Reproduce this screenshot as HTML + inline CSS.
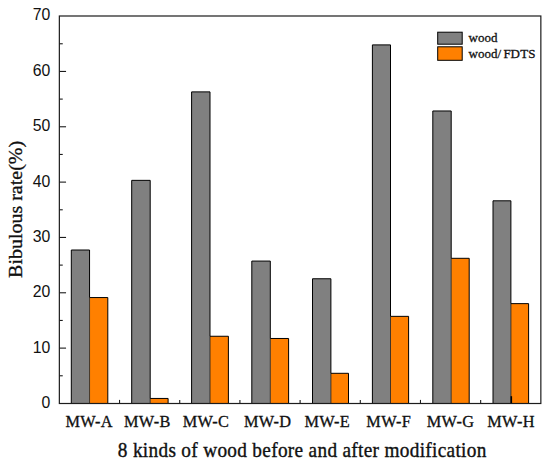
<!DOCTYPE html><html><head><meta charset="utf-8"><style>html,body{margin:0;padding:0;background:#fff;}svg{display:block}text{font-family:"Liberation Sans",sans-serif;fill:#111}.s{font-family:"Liberation Serif",serif;stroke:#111;stroke-width:0.3}.b{stroke-width:0.35}</style></head><body>
<svg width="550" height="466" viewBox="0 0 550 466">
<rect width="550" height="466" fill="#fff"/>
<rect x="71.30" y="250.01" width="18.25" height="153.49" fill="#808080"/>
<rect x="89.55" y="297.55" width="18.25" height="105.95" fill="#ff8000"/>
<line x1="89.55" y1="297.55" x2="89.55" y2="403.50" stroke="#1a1a1a" stroke-width="0.8"/>
<path d="M71.30 403.50V250.01H89.55V297.55H107.80V403.50" fill="none" stroke="#000" stroke-width="1" stroke-linejoin="miter"/>
<rect x="131.70" y="180.35" width="18.50" height="223.15" fill="#808080"/>
<rect x="150.20" y="398.45" width="17.90" height="5.05" fill="#ff8000"/>
<line x1="150.20" y1="398.45" x2="150.20" y2="403.50" stroke="#1a1a1a" stroke-width="0.8"/>
<path d="M131.70 403.50V180.35H150.20V398.45H168.10V403.50" fill="none" stroke="#000" stroke-width="1" stroke-linejoin="miter"/>
<rect x="191.60" y="91.89" width="18.40" height="311.61" fill="#808080"/>
<rect x="210.00" y="336.25" width="18.40" height="67.25" fill="#ff8000"/>
<line x1="210.00" y1="336.25" x2="210.00" y2="403.50" stroke="#1a1a1a" stroke-width="0.8"/>
<path d="M191.60 403.50V91.89H210.00V336.25H228.40V403.50" fill="none" stroke="#000" stroke-width="1" stroke-linejoin="miter"/>
<rect x="251.80" y="261.07" width="18.50" height="142.43" fill="#808080"/>
<rect x="270.30" y="338.47" width="18.30" height="65.03" fill="#ff8000"/>
<line x1="270.30" y1="338.47" x2="270.30" y2="403.50" stroke="#1a1a1a" stroke-width="0.8"/>
<path d="M251.80 403.50V261.07H270.30V338.47H288.60V403.50" fill="none" stroke="#000" stroke-width="1" stroke-linejoin="miter"/>
<rect x="312.50" y="278.76" width="18.40" height="124.74" fill="#808080"/>
<rect x="330.90" y="373.30" width="17.60" height="30.20" fill="#ff8000"/>
<line x1="330.90" y1="373.30" x2="330.90" y2="403.50" stroke="#1a1a1a" stroke-width="0.8"/>
<path d="M312.50 403.50V278.76H330.90V373.30H348.50V403.50" fill="none" stroke="#000" stroke-width="1" stroke-linejoin="miter"/>
<rect x="372.40" y="44.90" width="18.10" height="358.60" fill="#808080"/>
<rect x="390.50" y="316.35" width="18.10" height="87.15" fill="#ff8000"/>
<line x1="390.50" y1="316.35" x2="390.50" y2="403.50" stroke="#1a1a1a" stroke-width="0.8"/>
<path d="M372.40 403.50V44.90H390.50V316.35H408.60V403.50" fill="none" stroke="#000" stroke-width="1" stroke-linejoin="miter"/>
<rect x="432.80" y="110.97" width="18.40" height="292.53" fill="#808080"/>
<rect x="451.20" y="258.30" width="18.00" height="145.20" fill="#ff8000"/>
<line x1="451.20" y1="258.30" x2="451.20" y2="403.50" stroke="#1a1a1a" stroke-width="0.8"/>
<path d="M432.80 403.50V110.97H451.20V258.30H469.20V403.50" fill="none" stroke="#000" stroke-width="1" stroke-linejoin="miter"/>
<rect x="493.00" y="200.80" width="17.90" height="202.70" fill="#808080"/>
<rect x="510.90" y="303.64" width="17.70" height="99.86" fill="#ff8000"/>
<line x1="510.90" y1="303.64" x2="510.90" y2="403.50" stroke="#1a1a1a" stroke-width="0.8"/>
<path d="M493.00 403.50V200.80H510.90V303.64H528.60V403.50" fill="none" stroke="#000" stroke-width="1" stroke-linejoin="miter"/>
<rect x="510.5" y="396.2" width="1.6" height="7" fill="#000"/>
<rect x="59.35" y="16.0" width="481.50" height="387.50" fill="none" stroke="#1c1c1c" stroke-width="1.2"/>
<text x="50.3" y="407.95" font-size="15.8" text-anchor="end">0</text>
<line x1="59.35" y1="375.78" x2="62.75" y2="375.78" stroke="#1c1c1c" stroke-width="1.1"/>
<line x1="59.35" y1="348.11" x2="66.05" y2="348.11" stroke="#1c1c1c" stroke-width="1.1"/>
<text x="50.3" y="352.61" font-size="15.8" text-anchor="end">10</text>
<line x1="59.35" y1="320.45" x2="62.75" y2="320.45" stroke="#1c1c1c" stroke-width="1.1"/>
<line x1="59.35" y1="292.78" x2="66.05" y2="292.78" stroke="#1c1c1c" stroke-width="1.1"/>
<text x="50.3" y="297.28" font-size="15.8" text-anchor="end">20</text>
<line x1="59.35" y1="265.11" x2="62.75" y2="265.11" stroke="#1c1c1c" stroke-width="1.1"/>
<line x1="59.35" y1="237.44" x2="66.05" y2="237.44" stroke="#1c1c1c" stroke-width="1.1"/>
<text x="50.3" y="241.94" font-size="15.8" text-anchor="end">30</text>
<line x1="59.35" y1="209.78" x2="62.75" y2="209.78" stroke="#1c1c1c" stroke-width="1.1"/>
<line x1="59.35" y1="182.11" x2="66.05" y2="182.11" stroke="#1c1c1c" stroke-width="1.1"/>
<text x="50.3" y="186.61" font-size="15.8" text-anchor="end">40</text>
<line x1="59.35" y1="154.44" x2="62.75" y2="154.44" stroke="#1c1c1c" stroke-width="1.1"/>
<line x1="59.35" y1="126.77" x2="66.05" y2="126.77" stroke="#1c1c1c" stroke-width="1.1"/>
<text x="50.3" y="131.27" font-size="15.8" text-anchor="end">50</text>
<line x1="59.35" y1="99.10" x2="62.75" y2="99.10" stroke="#1c1c1c" stroke-width="1.1"/>
<line x1="59.35" y1="71.44" x2="66.05" y2="71.44" stroke="#1c1c1c" stroke-width="1.1"/>
<text x="50.3" y="75.94" font-size="15.8" text-anchor="end">60</text>
<line x1="59.35" y1="43.77" x2="62.75" y2="43.77" stroke="#1c1c1c" stroke-width="1.1"/>
<text x="50.3" y="19.80" font-size="15.8" text-anchor="end">70</text>
<line x1="119.54" y1="403.5" x2="119.54" y2="399.9" stroke="#1c1c1c" stroke-width="1.1"/>
<line x1="179.72" y1="403.5" x2="179.72" y2="399.9" stroke="#1c1c1c" stroke-width="1.1"/>
<line x1="239.91" y1="403.5" x2="239.91" y2="399.9" stroke="#1c1c1c" stroke-width="1.1"/>
<line x1="300.10" y1="403.5" x2="300.10" y2="399.9" stroke="#1c1c1c" stroke-width="1.1"/>
<line x1="360.29" y1="403.5" x2="360.29" y2="399.9" stroke="#1c1c1c" stroke-width="1.1"/>
<line x1="420.48" y1="403.5" x2="420.48" y2="399.9" stroke="#1c1c1c" stroke-width="1.1"/>
<line x1="480.66" y1="403.5" x2="480.66" y2="399.9" stroke="#1c1c1c" stroke-width="1.1"/>
<text class="s" transform="translate(89.20,427.3) scale(1,1.07)" font-size="16.3" letter-spacing="0.35" text-anchor="middle">MW-A</text>
<text class="s" transform="translate(147.30,427.3) scale(1,1.07)" font-size="16.3" letter-spacing="0.35" text-anchor="middle">MW-B</text>
<text class="s" transform="translate(206.00,427.3) scale(1,1.07)" font-size="16.3" letter-spacing="0.35" text-anchor="middle">MW-C</text>
<text class="s" transform="translate(267.70,427.3) scale(1,1.07)" font-size="16.3" letter-spacing="0.35" text-anchor="middle">MW-D</text>
<text class="s" transform="translate(327.30,427.3) scale(1,1.07)" font-size="16.3" letter-spacing="0.35" text-anchor="middle">MW-E</text>
<text class="s" transform="translate(388.80,427.3) scale(1,1.07)" font-size="16.3" letter-spacing="0.35" text-anchor="middle">MW-F</text>
<text class="s" transform="translate(450.50,427.3) scale(1,1.07)" font-size="16.3" letter-spacing="0.35" text-anchor="middle">MW-G</text>
<text class="s" transform="translate(511.00,427.3) scale(1,1.07)" font-size="16.3" letter-spacing="0.35" text-anchor="middle">MW-H</text>
<text class="s b" transform="translate(302.1,457.0) scale(1,1.09)" font-size="19.3" text-anchor="middle" textLength="368.5" lengthAdjust="spacing">8 kinds of wood before and after modification</text>
<text class="s b" transform="translate(21.5,209.4) rotate(-90) scale(1,0.9)" font-size="20" text-anchor="middle" textLength="137" lengthAdjust="spacing">Bibulous rate(%)</text>
<rect x="437.7" y="32.2" width="24.5" height="12" fill="#808080" stroke="#000" stroke-width="1"/>
<rect x="437.7" y="46.8" width="24.5" height="13.5" fill="#ff8000" stroke="#000" stroke-width="1"/>
<text class="s" x="468.6" y="42.0" font-size="13">wood</text>
<text class="s" x="468.6" y="57.8" font-size="13">wood/<tspan dx="2.3">FD</tspan><tspan dx="0.3">TS</tspan></text>
</svg></body></html>
